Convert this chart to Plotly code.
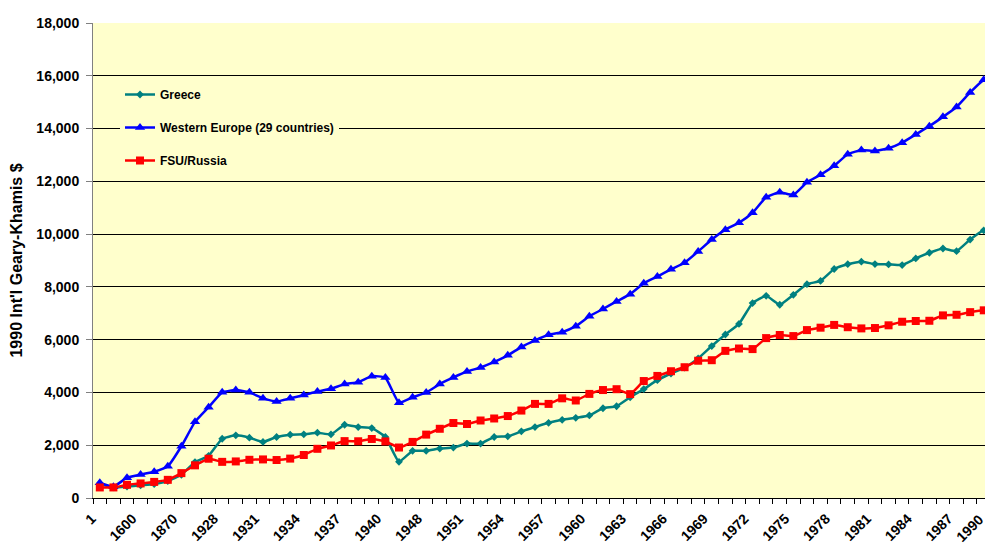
import plotly.graph_objects as go

years = ["1", "1000", "1500", "1600", "1700", "1820", "1870", "1900", "1913", "1928",
         "1929", "1930", "1931", "1932", "1933", "1934", "1935", "1936", "1937", "1938",
         "1939", "1940", "1946", "1947", "1948", "1949", "1950", "1951", "1952", "1953",
         "1954", "1955", "1956", "1957", "1958", "1959", "1960", "1961", "1962", "1963",
         "1964", "1965", "1966", "1967", "1968", "1969", "1970", "1971", "1972", "1973",
         "1974", "1975", "1976", "1977", "1978", "1979", "1980", "1981", "1982", "1983",
         "1984", "1985", "1986", "1987", "1988", "1989", "1990"]

greece = [550, 400, 433, 483, 530, 641, 880, 1360, 1600, 2245,
          2375, 2286, 2124, 2312, 2399, 2412, 2474, 2412, 2775, 2688,
          2650, 2312, 1372, 1786, 1786, 1874, 1910, 2061, 2061, 2312,
          2337, 2525, 2688, 2850, 2963, 3038, 3128, 3402, 3477, 3816,
          4128, 4466, 4718, 4944, 5290, 5759, 6195, 6598, 7387, 7662,
          7324, 7700, 8102, 8227, 8677, 8860, 8955, 8865, 8853, 8828,
          9079, 9293, 9455, 9355, 9793, 10144, 9990]

western_europe = [576, 427, 771, 889, 997, 1202, 1960, 2885, 3440, 4003,
                  4091, 4003, 3784, 3660, 3778, 3902, 4035, 4140, 4316, 4385,
                  4618, 4562, 3610, 3816, 4000, 4316, 4568, 4793, 4944, 5157,
                  5407, 5721, 5970, 6185, 6285, 6511, 6887, 7162, 7450, 7725,
                  8139, 8390, 8665, 8917, 9343, 9793, 10169, 10432, 10808, 11398,
                  11586, 11485, 11962, 12248, 12587, 13026, 13188, 13150, 13252, 13466,
                  13778, 14091, 14443, 14819, 15369, 15846, 15966]

fsu_russia = [400, 400, 499, 552, 610, 688, 943, 1237, 1488, 1370,
              1386, 1448, 1462, 1439, 1493, 1630, 1864, 1991, 2156, 2150,
              2237, 2144, 1913, 2126, 2402, 2623, 2841, 2805, 2937, 3013,
              3106, 3313, 3566, 3566, 3777, 3695, 3945, 4091, 4123, 3937,
              4432, 4626, 4804, 4956, 5202, 5222, 5575, 5665, 5643, 6059,
              6176, 6136, 6363, 6454, 6559, 6472, 6427, 6441, 6544, 6679,
              6708, 6716, 6920, 6943, 7043, 7112, 6871]

series_names = ["Greece", "Western Europe (29 countries)", "FSU/Russia"]
y_ticks = [0, 2000, 4000, 6000, 8000, 10000, 12000, 14000, 16000, 18000]

idx = list(range(len(years)))
label_step = 3
tick_idx = idx[::label_step]
tick_txt = years[::label_step]
x_range = [-0.5, 65.68]

fig = go.Figure()
styles = [
    dict(color="#008080", symbol="diamond", size=6),
    dict(color="#0000FF", symbol="triangle-up", size=9),
    dict(color="#FF0000", symbol="square", size=8),
]
for name, vals, st in zip(series_names, [greece, western_europe, fsu_russia], styles):
    fig.add_trace(go.Scatter(
        x=idx, y=vals, name=name, mode="lines+markers", legendgroup=name,
        text=years, hovertemplate="%{text}: %{y:,}<extra>" + name + "</extra>",
        line=dict(color=st["color"], width=2.5, shape="spline", smoothing=0.4),
        marker=dict(color=st["color"], symbol=st["symbol"], size=st["size"],
                    line=dict(width=0)),
    ))

font_bold = dict(family="Arial, Liberation Sans, sans-serif", size=14, color="black", weight="bold")

# the page body has an 8px margin, so the figure is sized to fill the rest of the window
fig.update_layout(
    width=985, height=536,
    margin=dict(l=85, r=0, t=15, b=42, pad=0),
    paper_bgcolor="white",
    plot_bgcolor="#FFFFCC",
    showlegend=True,
    legend=dict(x=0.03, y=0.88, xanchor="left", yanchor="top",
                bgcolor="#FFFFCC", borderwidth=0,
                font=dict(family="Arial, Liberation Sans, sans-serif", size=12,
                          color="black", weight="bold"),
                tracegroupgap=14, traceorder="grouped"),
    xaxis=dict(
        range=x_range, showgrid=False, zeroline=False,
        tickmode="array", tickvals=tick_idx, ticktext=tick_txt,
        tickangle=-45, tickfont=font_bold, ticklabelshift=-8,
        ticks="outside", ticklen=6, tickcolor="rgba(0,0,0,0)",
        showline=True, linecolor="black", linewidth=1,
        minor=dict(tick0=-0.5, dtick=1, ticks="outside", ticklen=5,
                   tickcolor="black", showgrid=False),
    ),
    yaxis=dict(
        range=[0, 18000], tickmode="array", tickvals=y_ticks,
        tickformat=",", tickfont=font_bold,
        showgrid=True, gridcolor="black", gridwidth=1,
        zeroline=False, showline=True, linecolor="#808080", linewidth=1,
        ticks="outside", ticklen=6, tickcolor="#808080",
        ticklabelstandoff=4,
        title=dict(text="1990 Int'l Geary-Khamis $",
                   font=dict(family="Arial, Liberation Sans, sans-serif", size=16,
                             color="black", weight="bold"),
                   standoff=9),
    ),
)

# last category label lies just beyond the visible plot edge (chart is cropped)
last = len(years) - 1
fig.add_annotation(
    x=(last - x_range[0]) / (x_range[1] - x_range[0]), xref="paper",
    y=-0.022, yref="paper", text=years[last], showarrow=False,
    textangle=-45, xanchor="right", yanchor="top", xshift=-8,
    font=font_bold,
)

fig.write_html("out.html")
